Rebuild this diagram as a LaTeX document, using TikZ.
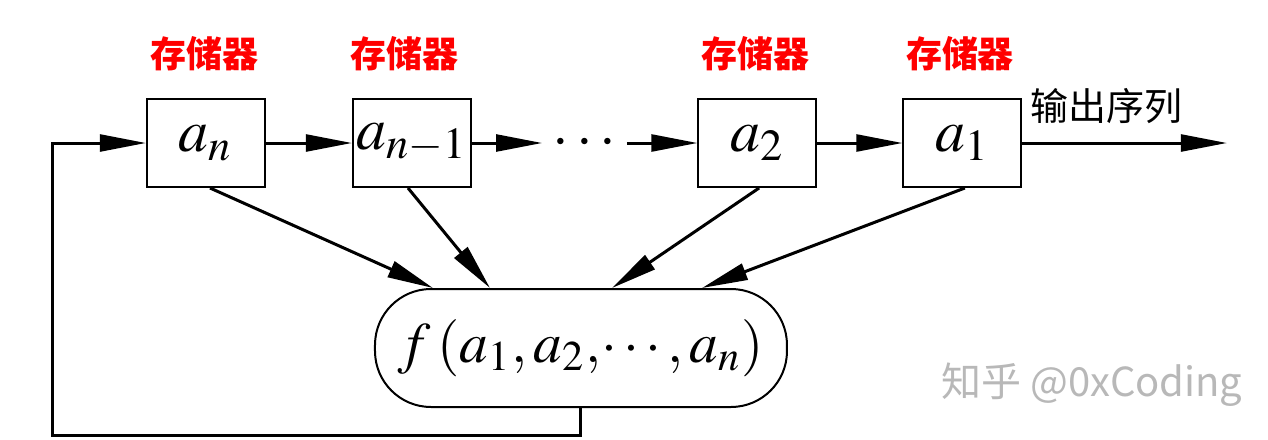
\documentclass[tikz,border=0pt]{standalone}
\usepackage{mathptmx}
\usepackage{fontspec}
\newfontfamily\cjk{Noto Sans CJK SC}
\usetikzlibrary{arrows.meta,calc}
\begin{document}
\begin{tikzpicture}[x=0.25pt,y=-0.25pt,
  box/.style={draw, line width=0.5pt, minimum width=118*0.25pt, minimum height=88*0.25pt, inner sep=0pt, font=\fontsize{15}{17}\selectfont},
  arr/.style={line width=0.75pt, -{Triangle[length=11.5pt,width=4.2pt]}},
  mem/.style={text=red, font=\cjk\bfseries\fontsize{9}{11}\selectfont},
  pill/.style={draw, line width=0.5pt, rounded corners=14pt, minimum width=412*0.25pt, minimum height=118*0.25pt, inner sep=0pt, font=\fontsize{14.3}{17}\selectfont}]
\useasboundingbox (0,0) rectangle (1268,440);
% storage boxes
\node[box] (an)  at (206,143)   {$a_n$};
\node[box] (an1) at (412,143)   {$a_{n-1}$};
\node[box] (a2)  at (757.5,143) {$a_2$};
\node[box] (a1)  at (962.5,143) {$a_1$};
\node[inner sep=0pt, minimum width=83*0.25pt, font=\fontsize{15}{17}\selectfont] (dots) at (584.5,143) {$\cdots$};
% labels
\node[mem] (m1) at (205,54) {存储器};
\node[mem] (m2) at (405,54) {存储器};
\node[mem] (m3) at (755,54) {存储器};
\node[mem] (m4) at (960,54) {存储器};
\node[font=\cjk\fontsize{9.5}{11}\selectfont] (outl) at (1107,106) {输出序列};
% function block
\node[pill] (f) at (581,348) {$f\,(a_1,a_2,\!\cdots,a_n)$};
% horizontal connectors
\draw[arr] (an) -- (an1);
\draw[arr] (an1) -- (dots.west);
\draw[arr] (dots.east) -- (a2);
\draw[arr] (a2) -- (a1);
\coordinate (out) at (1227,143);
\draw[arr] (a1) -- (out);
% taps
\draw[arr] ([xshift=1pt]an.south) -- ([xshift=-37pt]f.north);
\draw[arr] ([xshift=-1pt]an1.south) -- ([xshift=-22.75pt]f.north);
\draw[arr] ([xshift=0.4pt]a2.south) -- ([xshift=7.75pt]f.north);
\draw[arr] ([xshift=0.6pt]a1.south) -- ([xshift=30.25pt]f.north);
% feedback
\coordinate (fb) at (53,435);
\draw[arr] (f.south) |- (fb) |- (an.west);
% watermark
\node[text=black!28, font=\cjk\fontsize{10}{12}\selectfont] (wm) at (1092,385) {知乎 @0xCoding};
\end{tikzpicture}
\end{document}
